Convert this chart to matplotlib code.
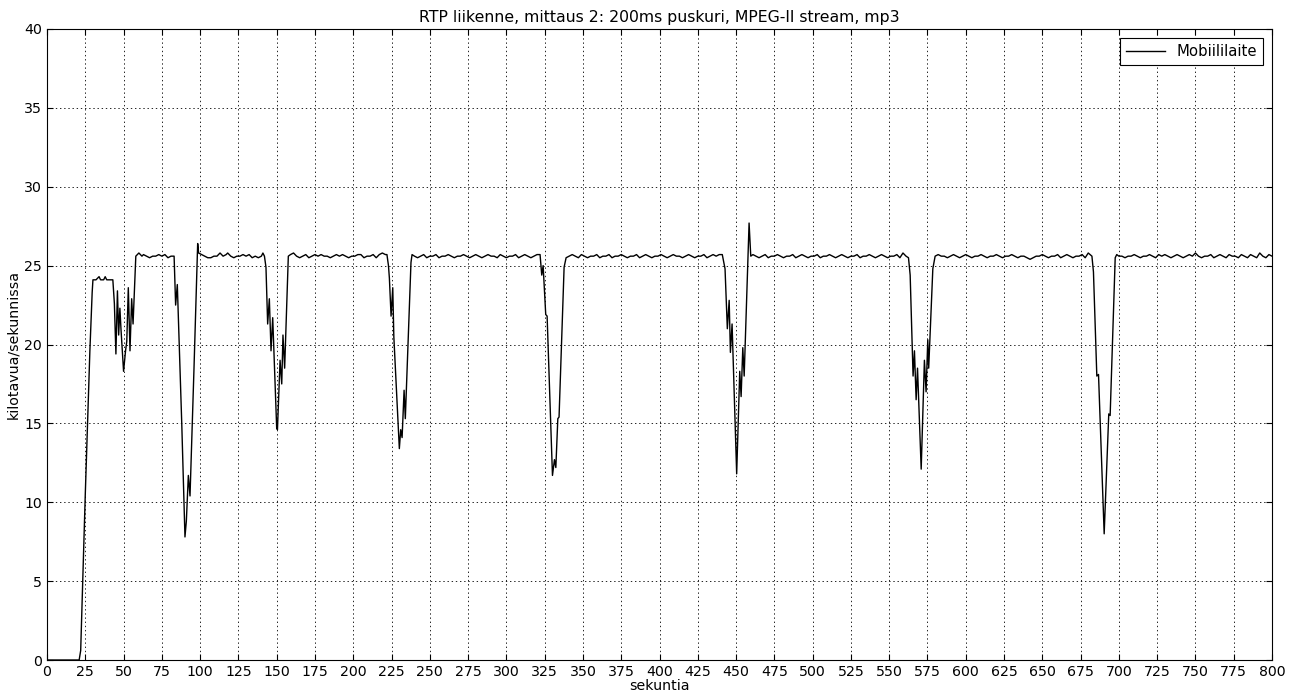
#!/usr/bin/env python3
import matplotlib
matplotlib.use('Agg')
import matplotlib.pyplot as plt

# Mittausdata: (sekunti, kilotavua/sekunnissa)
alku = [(0, 0), (21, 0), (22, 0.6), (25, 10.5), (28, 19.6), (29.5, 23.3), (30, 24.1),
        (32, 24.1), (34, 24.3), (35, 24.1), (37, 24.1), (38, 24.3), (39, 24.1), (41, 24.1),
        (43, 24.1), (44, 22.6), (45, 19.4), (46, 23.4), (46.8, 20.6), (47.6, 22.3),
        (48.3, 21.0), (50, 18.3), (51.3, 19.6), (52.1, 20.2), (53.1, 23.6), (54.2, 19.6),
        (55.3, 22.9), (56.2, 21.3), (58, 25.6), (59, 25.7), (60, 25.8)]

tasainen1 = [(62, 25.6), (63, 25.7), (65, 25.6), (67, 25.5), (69, 25.6), (71, 25.6),
             (73, 25.7), (75, 25.6), (77, 25.7), (79, 25.5), (81, 25.6), (83, 25.6)]

kuoppa1 = [(84, 22.5), (85.1, 23.8), (88, 15.0), (90.1, 7.8), (91, 8.8), (92.3, 11.7),
           (93.4, 10.4), (96, 18.5), (98.4, 26.4), (99, 25.8)]

tasainen2 = [(101, 25.7), (103, 25.6), (105, 25.5), (107, 25.5), (109, 25.6), (111, 25.6),
             (113, 25.8), (115, 25.6), (117, 25.7), (118, 25.8), (120, 25.6), (122, 25.5),
             (124, 25.6), (126, 25.6), (128, 25.7), (130, 25.6), (132, 25.7), (134, 25.5),
             (136, 25.6), (138, 25.5), (140, 25.6), (141, 25.8), (142, 25.6)]

kuoppa2 = [(143, 24.9), (144.1, 21.3), (145.2, 22.9), (146.3, 19.6), (147.4, 21.7),
           (150, 14.7), (150.5, 14.6), (152.2, 19.0), (153.3, 17.5), (154.1, 20.6),
           (155.2, 18.5), (157.6, 25.6), (159, 25.7)]

tasainen3 = [(161, 25.8), (163, 25.6), (165, 25.5), (167, 25.6), (169, 25.7), (171, 25.5),
             (173, 25.6), (175, 25.7), (177, 25.6), (179, 25.7), (181, 25.6), (183, 25.6),
             (185, 25.5), (187, 25.6), (189, 25.7), (191, 25.6), (193, 25.7), (195, 25.6),
             (197, 25.5), (199, 25.6), (201, 25.6), (203, 25.7), (205, 25.7), (207, 25.5),
             (209, 25.6), (211, 25.6), (213, 25.7), (215, 25.5), (217, 25.7), (219, 25.8),
             (221, 25.7), (222, 25.7)]

kuoppa3 = [(223, 25.0), (223.6, 24.2), (224.7, 21.8), (225.8, 23.6), (226.5, 20.5),
           (230.1, 13.4), (231, 14.6), (231.9, 14.1), (233.2, 17.1), (234, 15.3),
           (237.7, 25.2), (238.4, 25.7)]

tasainen4 = [(240, 25.6), (242, 25.5), (244, 25.6), (246, 25.7), (248, 25.5), (250, 25.6),
             (252, 25.6), (254, 25.7), (256, 25.5), (258, 25.6), (260, 25.6), (262, 25.7),
             (264, 25.6), (266, 25.5), (268, 25.6), (270, 25.6), (272, 25.7), (274, 25.6),
             (276, 25.5), (278, 25.6), (280, 25.7), (282, 25.6), (284, 25.5), (286, 25.6),
             (288, 25.7), (290, 25.6), (292, 25.6), (294, 25.5), (296, 25.7), (298, 25.6),
             (300, 25.5), (302, 25.6), (304, 25.6), (306, 25.7), (308, 25.5), (310, 25.6),
             (312, 25.7), (314, 25.6), (316, 25.5), (318, 25.6), (320, 25.7), (322, 25.7)]

kuoppa4 = [(323.1, 24.4), (324, 25.0), (325.7, 21.9), (326.6, 21.8), (330.1, 11.7),
           (331.4, 12.7), (332.3, 12.2), (333.6, 15.3), (334.4, 15.4), (337.7, 24.9),
           (339, 25.5)]

tasainen5 = [(341, 25.6), (343, 25.7), (345, 25.6), (347, 25.5), (349, 25.7), (351, 25.6),
             (353, 25.5), (355, 25.6), (357, 25.6), (359, 25.7), (361, 25.5), (363, 25.6),
             (365, 25.6), (367, 25.7), (369, 25.5), (371, 25.6), (373, 25.6), (375, 25.7),
             (377, 25.6), (379, 25.5), (381, 25.6), (383, 25.6), (385, 25.7), (387, 25.5),
             (389, 25.6), (391, 25.7), (393, 25.6), (395, 25.5), (397, 25.6), (399, 25.6),
             (401, 25.7), (403, 25.6), (405, 25.5), (407, 25.6), (409, 25.7), (411, 25.6),
             (413, 25.6), (415, 25.5), (417, 25.6), (419, 25.7), (421, 25.6), (423, 25.5),
             (425, 25.6), (427, 25.6), (429, 25.7), (431, 25.5), (433, 25.6), (435, 25.7),
             (437, 25.6), (439, 25.7), (441, 25.7)]

kuoppa5 = [(442.8, 24.8), (444.3, 21.0), (445.5, 22.8), (446.3, 19.5), (447.4, 21.3),
           (450.4, 11.8), (452.4, 18.3), (453.3, 16.7), (454.4, 19.8), (455.3, 18.0),
           (458.5, 27.7), (459.6, 25.6)]

tasainen6 = [(461, 25.7), (463, 25.6), (465, 25.5), (467, 25.6), (469, 25.7), (471, 25.5),
             (473, 25.6), (475, 25.6), (477, 25.7), (479, 25.6), (481, 25.5), (483, 25.6),
             (485, 25.6), (487, 25.7), (489, 25.5), (491, 25.6), (493, 25.7), (495, 25.6),
             (497, 25.5), (499, 25.6), (501, 25.6), (503, 25.7), (505, 25.5), (507, 25.6),
             (509, 25.6), (511, 25.7), (513, 25.6), (515, 25.5), (517, 25.6), (519, 25.7),
             (521, 25.6), (523, 25.5), (525, 25.6), (527, 25.6), (529, 25.7), (531, 25.5),
             (533, 25.6), (535, 25.6), (537, 25.7), (539, 25.6), (541, 25.5), (543, 25.6),
             (545, 25.7), (547, 25.6), (549, 25.5), (551, 25.6), (553, 25.6), (555, 25.7),
             (557, 25.5), (559, 25.8), (561, 25.6), (562.6, 25.5)]

kuoppa6 = [(563.7, 24.4), (565.6, 18.0), (566.5, 19.6), (567.6, 16.5), (568.5, 18.5),
           (570.9, 12.1), (573, 19.0), (574.1, 17.0), (575.2, 20.3), (575.8, 18.5),
           (578.5, 24.8), (580, 25.6)]

tasainen7 = [(582, 25.7), (584, 25.6), (586, 25.6), (588, 25.5), (590, 25.6), (592, 25.7),
             (594, 25.6), (596, 25.5), (598, 25.6), (600, 25.7), (602, 25.6), (604, 25.5),
             (606, 25.6), (608, 25.6), (610, 25.7), (612, 25.6), (614, 25.5), (616, 25.6),
             (618, 25.6), (620, 25.7), (622, 25.6), (624, 25.5), (626, 25.6), (628, 25.6),
             (630, 25.7), (632, 25.6), (634, 25.5), (636, 25.6), (638, 25.6), (640, 25.5),
             (642, 25.4), (644, 25.5), (646, 25.6), (648, 25.6), (650, 25.7), (652, 25.6),
             (654, 25.5), (656, 25.6), (658, 25.6), (660, 25.7), (662, 25.5), (664, 25.6),
             (666, 25.7), (668, 25.6), (670, 25.5), (672, 25.6), (674, 25.6), (676, 25.7),
             (678, 25.5), (680, 25.8), (682.4, 25.6)]

kuoppa7 = [(683.4, 24.6), (685.6, 18.0), (686.7, 18.1), (690.4, 8.0), (693.4, 15.6),
           (694.3, 15.5), (697.6, 25.5), (698.6, 25.7)]

tasainen8 = [(700, 25.6), (702, 25.6), (704, 25.5), (706, 25.6), (708, 25.6), (710, 25.7),
             (712, 25.6), (714, 25.5), (716, 25.6), (718, 25.6), (720, 25.7), (722, 25.6),
             (724, 25.5), (726, 25.7), (728, 25.6), (730, 25.7), (732, 25.6), (734, 25.5),
             (736, 25.6), (738, 25.7), (740, 25.6), (742, 25.5), (744, 25.6), (746, 25.7),
             (748, 25.6), (750, 25.8), (752, 25.6), (754, 25.5), (756, 25.6), (758, 25.6),
             (760, 25.7), (762, 25.5), (764, 25.6), (766, 25.7), (768, 25.6), (770, 25.5),
             (772, 25.7), (774, 25.6), (776, 25.6), (778, 25.5), (780, 25.7), (782, 25.6),
             (784, 25.5), (786, 25.7), (788, 25.6), (790, 25.5), (792, 25.8), (794, 25.6),
             (796, 25.5), (798, 25.7), (800, 25.6)]

jaksot = [alku, tasainen1, kuoppa1, tasainen2, kuoppa2, tasainen3, kuoppa3, tasainen4,
          kuoppa4, tasainen5, kuoppa5, tasainen6, kuoppa6, tasainen7, kuoppa7, tasainen8]

x_ticks = list(range(0, 801, 25))
y_ticks = list(range(0, 41, 5))


def main():
    pisteet = [p for jakso in jaksot for p in jakso]
    aika = [p[0] for p in pisteet]
    kbps = [p[1] for p in pisteet]

    # vanhan matplotlibin tyyliset pisteviivat
    plt.rcParams['lines.scale_dashes'] = False

    fig = plt.figure(figsize=(12.96, 6.95), dpi=100)
    ax = fig.add_axes([47 / 1296, 35 / 695, (1272 - 47) / 1296, (660 - 29) / 695])

    ax.plot(aika, kbps, 'k-', linewidth=1.0, label='Mobiililaite')

    ax.set_xlim(0, 800)
    ax.set_ylim(0, 40)
    ax.set_xticks(x_ticks)
    ax.set_yticks(y_ticks)
    ax.tick_params(direction='in', top=True, right=True, length=4, labelsize=10.2)
    ax.grid(True, linestyle=(0, (1, 2)), color='k', linewidth=0.6)

    ax.set_title('RTP liikenne, mittaus 2: 200ms puskuri, MPEG-II stream, mp3', fontsize=11.3, pad=5)
    ax.set_xlabel('sekuntia', fontsize=10.2, labelpad=0)
    ax.set_ylabel('kilotavua/sekunnissa', fontsize=10.2, labelpad=3)

    leg = ax.legend(loc='upper right', fontsize=10.7, fancybox=False, handlelength=2.6,
                    borderaxespad=0.6, framealpha=1)
    leg.get_frame().set_edgecolor('k')
    leg.get_frame().set_linewidth(0.8)

    fig.savefig('out.png', dpi=100)
    plt.close(fig)


if __name__ == "__main__":
    main()
